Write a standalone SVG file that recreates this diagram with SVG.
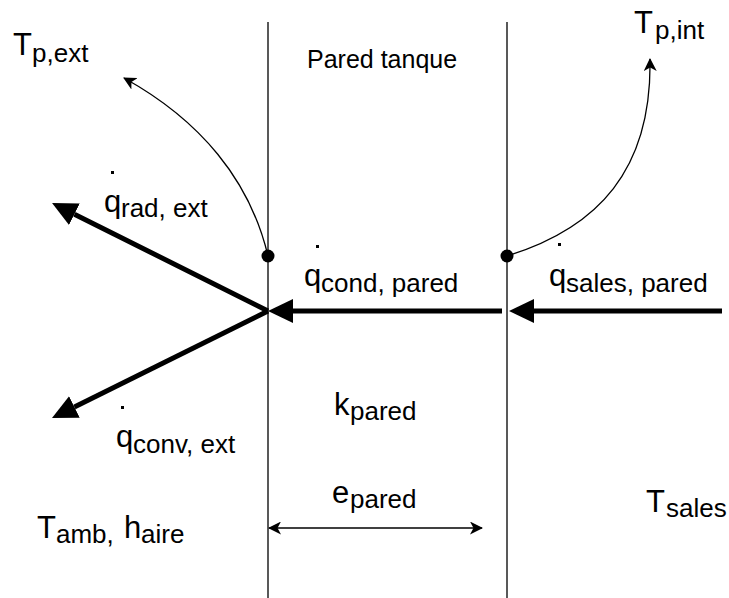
<svg xmlns="http://www.w3.org/2000/svg" width="729" height="598" viewBox="0 0 729 598">
<style>
text{font-family:"Liberation Sans",Arial,Helvetica,sans-serif;fill:#000}
.m{font-size:31px}
.s{font-size:26px}
.wall{stroke:#222;stroke-width:1.5;fill:none}
.thin{stroke:#000;stroke-width:1.3;fill:none}
.thick{stroke:#000;stroke-width:5;fill:none}
.qdot{fill:#000}
</style>
<defs>
<marker id="block" viewBox="0 0 25 24" markerWidth="25" markerHeight="24" refX="0" refY="12" orient="auto" markerUnits="userSpaceOnUse">
<path d="M0,0 L25,12 L0,24 z" fill="#000"/>
</marker>
<marker id="classic" viewBox="0 0 13 13" markerWidth="13" markerHeight="13" refX="12" refY="6.5" orient="auto-start-reverse" markerUnits="userSpaceOnUse">
<path d="M0,0 L13,6.5 L0,13 L3.5,6.5 z" fill="#000"/>
</marker>
</defs>
<g id="walls">
<line class="wall" x1="268" y1="22" x2="268" y2="598"/>
<line class="wall" x1="507" y1="22" x2="507" y2="598"/>
</g>
<g id="connectors">
<path class="thin" d="M268,256 C250,180 200,120 124,78" marker-end="url(#classic)"/>
<path class="thin" d="M507,256 C598,228 652,170 650,59" marker-end="url(#classic)"/>
<line class="thick" x1="268" y1="311" x2="74.4" y2="214.2" marker-end="url(#block)"/>
<line class="thick" x1="268" y1="311" x2="74.4" y2="406.9" marker-end="url(#block)"/>
<line class="thick" x1="502" y1="311" x2="293" y2="311" marker-end="url(#block)"/>
<line class="thick" x1="722" y1="311" x2="534" y2="311" marker-end="url(#block)"/>
<line class="thin" x1="269" y1="528" x2="482" y2="528" stroke-width="1.5" marker-start="url(#classic)" marker-end="url(#classic)"/>
</g>
<g id="node-ext-dot"><circle cx="268" cy="256" r="6.5" fill="#000"/></g>
<g id="node-int-dot"><circle cx="507" cy="256" r="6.5" fill="#000"/></g>
<g id="label-tpext"><text><tspan class="m" x="13" y="55">T</tspan><tspan class="s" x="32" y="62">p,ext</tspan></text></g>
<g id="label-tpint"><text><tspan class="m" x="634" y="33">T</tspan><tspan class="s" x="655" y="39">p,int</tspan></text></g>
<g id="label-pared-tanque"><text x="307" y="68" font-size="25">Pared tanque</text></g>
<g id="label-qrad">
<rect class="qdot" x="111" y="171" width="3" height="3"/>
<text><tspan class="m" x="104" y="212">q</tspan><tspan class="s" x="121" y="217">rad, ext</tspan></text>
</g>
<g id="label-qcond">
<rect class="qdot" x="316" y="245" width="3" height="3"/>
<text><tspan class="m" x="304" y="286">q</tspan><tspan class="s" x="321" y="292">cond, pared</tspan></text>
</g>
<g id="label-qsales">
<rect class="qdot" x="558" y="243" width="3" height="3"/>
<text><tspan class="m" x="549" y="286">q</tspan><tspan class="s" x="566" y="292">sales, pared</tspan></text>
</g>
<g id="label-qconv">
<rect class="qdot" x="121" y="406" width="3" height="3"/>
<text><tspan class="m" x="116" y="447">q</tspan><tspan class="s" x="133" y="453">conv, ext</tspan></text>
</g>
<g id="label-kpared"><text><tspan class="m" x="334" y="415">k</tspan><tspan class="s" x="350" y="420">pared</tspan></text></g>
<g id="label-epared"><text><tspan class="m" x="332" y="503">e</tspan><tspan class="s" x="350" y="508">pared</tspan></text></g>
<g id="label-tamb"><text><tspan class="m" x="37" y="538">T</tspan><tspan class="s" x="56" y="543">amb,</tspan><tspan class="m" x="124" y="538">h</tspan><tspan class="s" x="141" y="543">aire</tspan></text></g>
<g id="label-tsales"><text><tspan class="m" x="646" y="512">T</tspan><tspan class="s" x="666" y="517">sales</tspan></text></g>
</svg>
